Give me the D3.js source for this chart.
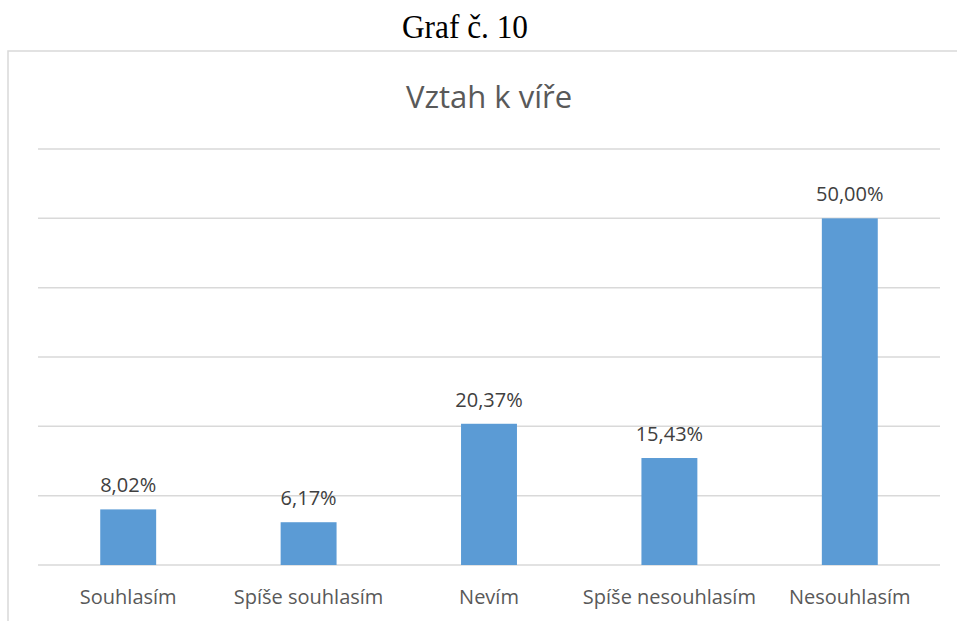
<!DOCTYPE html>
<html lang="cs">
<head>
<meta charset="UTF-8">
<title>Vztah k víře</title>
<script src="https://cdn.jsdelivr.net/npm/d3@7"></script>
<style>
    body { margin: 0; padding: 0; background: #fff; }
</style>
</head>
<body>
<div id="chart"></div>
<script>
    // Data
    const categories = ["Souhlasím", "Spíše souhlasím", "Nevím", "Spíše nesouhlasím", "Nesouhlasím"];
    const values = [8.02, 6.17, 20.37, 15.43, 50.00];
    const gridTicks = [0, 10, 20, 30, 40, 50, 60];

    const width = 957, height = 621;
    const plot = {left: 38, right: 940, top: 149, bottom: 565};

    const svg = d3.select("#chart").append("svg")
        .attr("width", width)
        .attr("height", height)
        .style("display", "block");

    // Outer caption above the chart box
    svg.append("text")
        .attr("x", 465)
        .attr("y", 38)
        .attr("text-anchor", "middle")
        .attr("font-family", "'Liberation Serif', 'Times New Roman', serif")
        .attr("font-size", 34)
        .attr("textLength", 126)
        .attr("lengthAdjust", "spacingAndGlyphs")
        .attr("fill", "#000")
        .text("Graf č. 10");

    // Chart box (only top and left edges visible)
    svg.append("path")
        .attr("d", `M8,${height + 2}V51H${width + 2}`)
        .attr("fill", "none")
        .attr("stroke", "#d9d9d9")
        .attr("stroke-width", 1.5);

    const x = d3.scaleBand()
        .domain(categories)
        .range([plot.left, plot.right])
        .paddingInner(0.69)
        .paddingOuter(0.345);

    const y = d3.scaleLinear()
        .domain([0, 60])
        .range([plot.bottom, plot.top]);

    // Title
    svg.append("text")
        .attr("x", (plot.left + plot.right) / 2)
        .attr("y", 108)
        .attr("text-anchor", "middle")
        .attr("font-family", "'Open Sans', sans-serif")
        .attr("font-size", 31)
        .attr("fill", "#595959")
        .text("Vztah k víře");

    // Gridlines
    svg.append("g")
        .selectAll("line")
        .data(gridTicks)
        .join("line")
        .attr("x1", plot.left)
        .attr("x2", plot.right)
        .attr("y1", d => y(d))
        .attr("y2", d => y(d))
        .attr("stroke", "#d9d9d9")
        .attr("stroke-width", 1.5);

    // Bars
    svg.append("g")
        .selectAll("rect")
        .data(values)
        .join("rect")
        .attr("x", (d, i) => x(categories[i]))
        .attr("y", d => y(d))
        .attr("width", x.bandwidth())
        .attr("height", d => y(0) - y(d))
        .attr("fill", "#5b9bd5");

    // Value labels
    const fmt = d => d.toFixed(2).replace(".", ",") + "%";
    svg.append("g")
        .attr("font-family", "'Open Sans', sans-serif")
        .attr("font-size", 20)
        .attr("fill", "#404040")
        .attr("text-anchor", "middle")
        .selectAll("text")
        .data(values)
        .join("text")
        .attr("x", (d, i) => x(categories[i]) + x.bandwidth() / 2)
        .attr("y", d => y(d) - 17)
        .text(fmt);

    // Category axis
    const xAxis = svg.append("g")
        .attr("transform", `translate(0,${plot.bottom})`)
        .call(d3.axisBottom(x).tickSize(0).tickPadding(0));
    xAxis.select(".domain").remove();
    xAxis.selectAll("text")
        .attr("dy", null)
        .attr("y", 39)
        .attr("font-family", "'Open Sans', sans-serif")
        .attr("font-size", 20)
        .attr("fill", "#595959");
</script>
</body>
</html>
